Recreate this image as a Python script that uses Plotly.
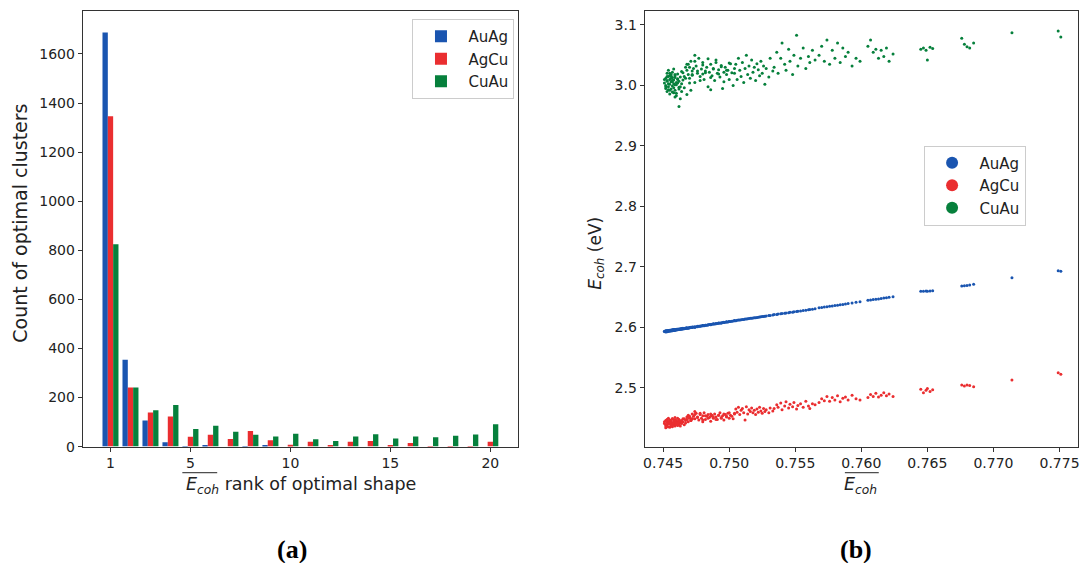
import plotly.graph_objects as go

# ---------------- data: panel (a) ----------------
ranks = list(range(1, 21))
count_auag = [1688, 354, 106, 18, 2, 5, 0, 2, 5, 0, 0, 0, 0, 0, 0, 0, 0, 0, 0, 0]
count_agcu = [1346, 241, 139, 123, 40, 48, 31, 64, 26, 8, 20, 3, 20, 23, 7, 15, 1, 2, 2, 20]
count_cuau = [825, 241, 148, 170, 72, 85, 61, 48, 41, 52, 30, 23, 41, 50, 33, 41, 38, 44, 49, 91]

# ---------------- data: panel (b) ----------------
mean_ecoh = [
    # cluster A
    0.7451, 0.7452, 0.7452, 0.7453, 0.7453, 0.7453, 0.7454, 0.7454, 0.7454, 0.7455,
    0.7455, 0.7455, 0.7456, 0.7456, 0.7456, 0.7457, 0.7457, 0.7457, 0.7458, 0.7458,
    0.7458, 0.7459, 0.7459, 0.7459, 0.7460, 0.7460, 0.7461, 0.7461, 0.7462, 0.7462,
    0.7463, 0.7463, 0.7464, 0.7464, 0.7465, 0.7465, 0.7466, 0.7467, 0.7467, 0.7468,
    0.7469, 0.7470, 0.7471, 0.7472, 0.7452, 0.7454, 0.7456, 0.7458, 0.7460, 0.7462,
    0.7451, 0.7452, 0.7453, 0.7454, 0.7455, 0.7456, 0.7457, 0.7458, 0.7459, 0.7460,
    0.7461, 0.7462, 0.7453, 0.7455, 0.7457, 0.7459, 0.7461, 0.7463, 0.7455, 0.7457,
    0.7459, 0.7464, 0.7466, 0.7468,
    # cluster B
    0.7468, 0.7469, 0.7470, 0.7471, 0.7472, 0.7473, 0.7474, 0.7475, 0.7476, 0.7477,
    0.7478, 0.7479, 0.7480, 0.7481, 0.7482, 0.7483, 0.7484, 0.7485, 0.7486, 0.7487,
    0.7488, 0.7489, 0.7490, 0.7491, 0.7492, 0.7493, 0.7494, 0.7495, 0.7496, 0.7497,
    0.7498, 0.7499, 0.7500, 0.7501, 0.7502, 0.7503, 0.7504, 0.7474, 0.7480, 0.7486,
    0.7470, 0.7472, 0.7474, 0.7476, 0.7478, 0.7480, 0.7482, 0.7484, 0.7486, 0.7488,
    0.7490, 0.7492, 0.7494, 0.7496, 0.7498, 0.7500,
    # cluster C
    0.7504, 0.7505, 0.7506, 0.7507, 0.7508, 0.7509, 0.7510, 0.7511, 0.7512, 0.7513,
    0.7514, 0.7515, 0.7516, 0.7517, 0.7518, 0.7519, 0.7520, 0.7521, 0.7522, 0.7523,
    0.7524, 0.7525, 0.7526, 0.7527, 0.7528, 0.7530, 0.7531, 0.7533,
    # cluster D
    0.7534, 0.7536, 0.7537, 0.7539, 0.7540, 0.7542, 0.7543, 0.7545, 0.7546, 0.7548,
    0.7549, 0.7551, 0.7552, 0.7554, 0.7556, 0.7558, 0.7560, 0.7561, 0.7563, 0.7565,
    # cluster E
    0.7568, 0.7570, 0.7572, 0.7574, 0.7576, 0.7578, 0.7580, 0.7582, 0.7584, 0.7586,
    0.7588, 0.7590, 0.7593, 0.7596, 0.7599,
    # cluster F
    0.7605, 0.7607, 0.7609, 0.7611, 0.7613, 0.7615, 0.7617, 0.7619, 0.7621, 0.7624,
    # cluster G
    0.7645, 0.7647, 0.7649, 0.7650, 0.7652, 0.7654,
    # cluster H
    0.7676, 0.7678, 0.7680, 0.7682, 0.7685,
    # isolated
    0.7714, 0.7749, 0.7751,
]

ecoh_auag = [
    2.5935, 2.5925, 2.5945, 2.5930, 2.5948, 2.5940, 2.5936, 2.5950, 2.5942, 2.5940,
    2.5953, 2.5946, 2.5943, 2.5958, 2.5950, 2.5947, 2.5960, 2.5953, 2.5950, 2.5962,
    2.5956, 2.5952, 2.5967, 2.5960, 2.5957, 2.5968, 2.5962, 2.5972, 2.5965, 2.5975,
    2.5968, 2.5980, 2.5972, 2.5982, 2.5976, 2.5985, 2.5980, 2.5984, 2.5992, 2.5988,
    2.5992, 2.5996, 2.6000, 2.6004, 2.5938, 2.5944, 2.5951, 2.5958, 2.5962, 2.5969,
    2.5931, 2.5940, 2.5938, 2.5946, 2.5944, 2.5953, 2.5951, 2.5960, 2.5958, 2.5966,
    2.5964, 2.5972, 2.5943, 2.5949, 2.5956, 2.5962, 2.5969, 2.5971, 2.5945, 2.5955,
    2.5963, 2.5979, 2.5981, 2.5993,
    2.5992, 2.5988, 2.5999, 2.6002, 2.5998, 2.6009, 2.6008, 2.6012, 2.6010, 2.6020,
    2.6022, 2.6024, 2.6030, 2.6028, 2.6036, 2.6038, 2.6040, 2.6047, 2.6046, 2.6052,
    2.6056, 2.6058, 2.6064, 2.6063, 2.6070, 2.6072, 2.6074, 2.6080, 2.6083, 2.6085,
    2.6092, 2.6090, 2.6098, 2.6100, 2.6104, 2.6108, 2.6110, 2.6003, 2.6026, 2.6050,
    2.5995, 2.6006, 2.6008, 2.6019, 2.6021, 2.6033, 2.6035, 2.6046, 2.6048, 2.6059,
    2.6061, 2.6072, 2.6075, 2.6085, 2.6088, 2.6099,
    2.6113, 2.6112, 2.6118, 2.6122, 2.6124, 2.6128, 2.6131, 2.6132, 2.6138, 2.6140,
    2.6142, 2.6147, 2.6150, 2.6151, 2.6156, 2.6160, 2.6162, 2.6165, 2.6168, 2.6172,
    2.6175, 2.6180, 2.6182, 2.6184, 2.6190, 2.6196, 2.6198, 2.6206,
    2.6212, 2.6215, 2.6222, 2.6225, 2.6230, 2.6233, 2.6240, 2.6244, 2.6250, 2.6253,
    2.6258, 2.6262, 2.6268, 2.6272, 2.6280, 2.6286, 2.6292, 2.6295, 2.6300, 2.6310,
    2.6325, 2.6330, 2.6338, 2.6342, 2.6350, 2.6355, 2.6362, 2.6368, 2.6375, 2.6380,
    2.6388, 2.6395, 2.6405, 2.6415, 2.6425,
    2.6448, 2.6452, 2.6460, 2.6465, 2.6472, 2.6480, 2.6485, 2.6492, 2.6498, 2.6508,
    2.6598, 2.6600, 2.6602, 2.6600, 2.6604, 2.6606,
    2.6685, 2.6690, 2.6695, 2.6700, 2.6712,
    2.6820, 2.6935, 2.6930,
]

ecoh_agcu = [
    2.441, 2.437, 2.446, 2.443, 2.439, 2.448, 2.436, 2.444, 2.450, 2.441,
    2.435, 2.447, 2.442, 2.438, 2.445, 2.440, 2.449, 2.436, 2.443, 2.447,
    2.439, 2.444, 2.437, 2.451, 2.441, 2.446, 2.438, 2.444, 2.448, 2.440,
    2.443, 2.437, 2.446, 2.441, 2.449, 2.444, 2.439, 2.446, 2.442, 2.448,
    2.444, 2.450, 2.446, 2.449, 2.434, 2.442, 2.445, 2.439, 2.443, 2.447,
    2.444, 2.439, 2.447, 2.441, 2.445, 2.438, 2.449, 2.442, 2.446, 2.440,
    2.450, 2.443, 2.436, 2.444, 2.441, 2.447, 2.439, 2.445, 2.442, 2.438,
    2.446, 2.443, 2.449, 2.452,
    2.448, 2.455, 2.451, 2.446, 2.457, 2.453, 2.449, 2.458, 2.452, 2.447,
    2.456, 2.450, 2.454, 2.459, 2.448, 2.453, 2.456, 2.451, 2.445, 2.455,
    2.450, 2.457, 2.452, 2.448, 2.455, 2.459, 2.451, 2.454, 2.447, 2.456,
    2.452, 2.458, 2.450, 2.455, 2.453, 2.449, 2.457, 2.461, 2.444, 2.453,
    2.453, 2.449, 2.456, 2.451, 2.458, 2.447, 2.454, 2.450, 2.457, 2.452,
    2.448, 2.455, 2.450, 2.457, 2.453, 2.459,
    2.458, 2.465, 2.460, 2.468, 2.456, 2.463, 2.466, 2.459, 2.447, 2.469,
    2.457, 2.464, 2.461, 2.467, 2.459, 2.463, 2.456, 2.465, 2.460, 2.468,
    2.462, 2.458, 2.466, 2.461, 2.464, 2.459, 2.467, 2.462,
    2.466, 2.472, 2.468, 2.475, 2.464, 2.470, 2.477, 2.467, 2.473, 2.469,
    2.476, 2.465, 2.471, 2.474, 2.468, 2.478, 2.470, 2.466, 2.474, 2.472,
    2.476, 2.482, 2.479, 2.486, 2.478, 2.484, 2.480, 2.487, 2.477, 2.483,
    2.485, 2.480, 2.488, 2.482, 2.480,
    2.484, 2.489, 2.486, 2.491, 2.485, 2.488, 2.492, 2.487, 2.490, 2.486,
    2.498, 2.492, 2.496, 2.499, 2.494, 2.497,
    2.505, 2.503, 2.505, 2.504, 2.502,
    2.513, 2.525, 2.5225,
]

ecoh_cuau = [
    3.004, 3.012, 2.995, 3.020, 2.990, 3.008, 3.015, 2.998, 3.025, 3.002,
    2.986, 3.010, 3.018, 2.994, 3.006, 3.022, 2.999, 3.013, 2.988, 3.009,
    3.027, 3.001, 2.992, 3.016, 3.005, 2.983, 3.011, 3.019, 2.997, 3.007,
    2.978, 3.014, 3.003, 2.990, 3.021, 3.009, 2.996, 3.030, 3.012, 2.985,
    3.018, 3.004, 2.992, 3.024, 3.000, 2.993, 3.016, 3.003, 2.987, 2.965,
    3.010, 2.998, 3.015, 3.003, 2.992, 3.012, 3.006, 2.996, 3.018, 3.001,
    3.010, 2.994, 3.007, 3.020, 2.989, 3.013, 3.004, 2.998, 3.016, 3.008,
    2.981, 3.023, 3.015, 3.035,
    3.025, 3.035, 3.012, 3.040, 3.018, 3.028, 3.005, 3.032, 3.020, 3.045,
    3.015, 3.027, 3.038, 3.010, 3.024, 3.030, 2.998, 3.022, 3.035, 3.016,
    3.028, 3.008, 3.042, 3.020, 3.026, 3.014, 3.033, 2.995, 3.022, 3.030,
    3.018, 3.025, 3.010, 3.036, 3.021, 3.000, 3.028, 3.050, 3.019, 2.993,
    3.030, 3.017, 3.040, 3.024, 3.008, 3.034, 3.021, 3.044, 3.013, 3.027,
    3.038, 3.019, 3.031, 3.006, 3.025, 3.037,
    3.020, 3.035, 3.010, 3.045, 3.025, 3.015, 3.038, 3.005, 3.028, 3.050,
    3.018, 3.032, 3.012, 3.042, 3.022, 3.030, 3.008, 3.036, 3.026, 3.016,
    3.040, 3.020, 3.032, 3.002, 3.028, 3.014, 3.045, 3.024,
    3.030, 3.055, 3.020, 3.045, 3.070, 3.035, 3.025, 3.060, 3.040, 3.018,
    3.050, 3.083, 3.032, 3.045, 3.062, 3.028, 3.048, 3.038, 3.058, 3.042,
    3.050, 3.065, 3.040, 3.075, 3.035, 3.058, 3.045, 3.070, 3.038, 3.062,
    3.048, 3.055, 3.032, 3.045, 3.040,
    3.065, 3.075, 3.055, 3.060, 3.045, 3.058, 3.048, 3.062, 3.040, 3.052,
    3.060, 3.062, 3.058, 3.042, 3.063, 3.061,
    3.078, 3.068, 3.064, 3.062, 3.070,
    3.087, 3.090, 3.080,
]

bar_ticks = [1, 5, 10, 15, 20]
count_ticks = [0, 200, 400, 600, 800, 1000, 1200, 1400, 1600]
mean_ticks = [0.745, 0.750, 0.755, 0.760, 0.765, 0.770, 0.775]
ecoh_ticks = [2.5, 2.6, 2.7, 2.8, 2.9, 3.0, 3.1]

BLUE = "#1a55b0"
RED = "#ea2e30"
GREEN = "#06803c"
FONT = "DejaVu Sans"
AXC = "#333333"
TXT = "#222222"

fig = go.Figure()

fig.add_trace(go.Bar(x=ranks, y=count_auag, name="AuAg", marker=dict(color=BLUE, line=dict(width=0)),
                     xaxis="x", yaxis="y", legend="legend"))
fig.add_trace(go.Bar(x=ranks, y=count_agcu, name="AgCu", marker=dict(color=RED, line=dict(width=0)),
                     xaxis="x", yaxis="y", legend="legend"))
fig.add_trace(go.Bar(x=ranks, y=count_cuau, name="CuAu", marker=dict(color=GREEN, line=dict(width=0)),
                     xaxis="x", yaxis="y", legend="legend"))

for name, ys, col in [("AuAg", ecoh_auag, BLUE), ("AgCu", ecoh_agcu, RED), ("CuAu", ecoh_cuau, GREEN)]:
    fig.add_trace(go.Scatter(x=mean_ecoh, y=ys, mode="markers", name=name,
                             marker=dict(color=col, size=3, line=dict(width=0)),
                             xaxis="x2", yaxis="y2", legend="legend2"))

W, H = 1085, 563
HR = 553.0  # effective rendered height used for placement


def px(x):
    return x / W


def py(y):
    return 1 - y / HR


axis_common = dict(showline=True, linecolor=AXC, linewidth=1, mirror=True, ticks="outside",
                   ticklen=4, tickcolor=AXC, showgrid=False, zeroline=False,
                   tickfont=dict(family=FONT, size=14, color=TXT))

fig.update_layout(
    width=W, height=H, margin=dict(l=0, r=0, t=0, b=0),
    paper_bgcolor="white", plot_bgcolor="white",
    barmode="group", bargap=0.2, bargroupgap=0,
    xaxis=dict(domain=[px(81), px(518)], range=[-0.39, 21.39], tickvals=bar_ticks, anchor="y", **axis_common),
    yaxis=dict(domain=[py(445), py(11)], range=[0, 1775], tickvals=count_ticks, anchor="x", **axis_common),
    xaxis2=dict(domain=[px(645), px(1080)], range=[0.7436, 0.7764], tickvals=mean_ticks, tickformat=".3f",
                anchor="y2", **axis_common),
    yaxis2=dict(domain=[py(445), py(11)], range=[2.403, 3.123], tickvals=ecoh_ticks, tickformat=".1f",
                anchor="x2", **axis_common),
    legend=dict(x=px(412), y=py(19), xanchor="left", yanchor="top", bgcolor="white",
                bordercolor="#cccccc", borderwidth=1, font=dict(family=FONT, size=15, color=TXT),
                itemwidth=45),
    legend2=dict(x=px(925), y=py(145), xanchor="left", yanchor="top", bgcolor="white",
                 bordercolor="#cccccc", borderwidth=1, font=dict(family=FONT, size=15, color=TXT),
                 itemsizing="constant", itemwidth=45),
    showlegend=True,
)

annots = [
    dict(text="Count of optimal clusters", x=px(18), y=py(222), textangle=-90,
         font=dict(family=FONT, size=19, color=TXT)),
    dict(text="<i>E</i><sub><i>coh</i></sub> rank of optimal shape", x=px(300), y=py(484),
         font=dict(family=FONT, size=17.5, color=TXT)),
    dict(text="<i>E</i><sub><i>coh</i></sub> (eV)", x=px(597), y=py(252), textangle=-90,
         font=dict(family=FONT, size=17, color=TXT)),
    dict(text="<i>E</i><sub><i>coh</i></sub>", x=px(862), y=py(484),
         font=dict(family=FONT, size=17.5, color=TXT)),
    dict(text="<b>(a)</b>", x=px(291), y=py(548), font=dict(family="Liberation Serif", size=26, color="black")),
    dict(text="<b>(b)</b>", x=px(857), y=py(548), font=dict(family="Liberation Serif", size=26, color="black")),
]
for a in annots:
    a.update(xref="paper", yref="paper", showarrow=False, xanchor="center", yanchor="middle")
fig.update_layout(annotations=annots)

fig.update_layout(shapes=[
    dict(type="line", xref="paper", yref="paper", x0=px(181), x1=px(216), y0=py(471), y1=py(471),
         line=dict(color=TXT, width=1)),
    dict(type="line", xref="paper", yref="paper", x0=px(846), x1=px(880), y0=py(471), y1=py(471),
         line=dict(color=TXT, width=1)),
])

fig.write_html("out.html")
